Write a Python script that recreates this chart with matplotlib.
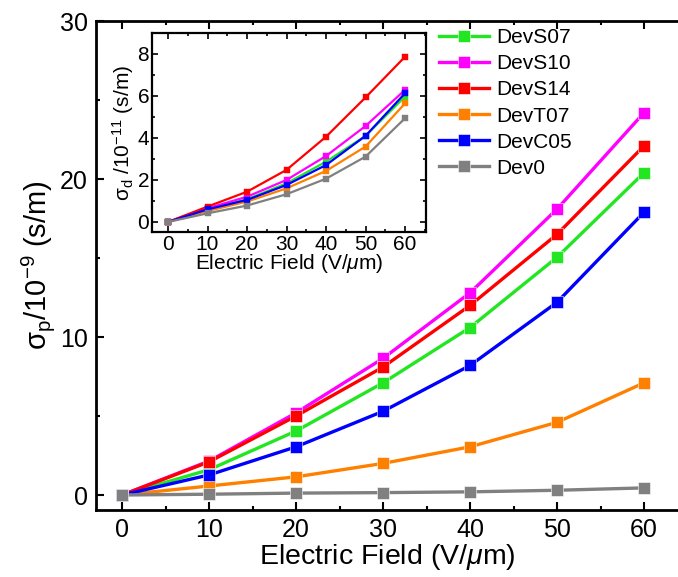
import numpy as np
import matplotlib
matplotlib.use("Agg")
import matplotlib.pyplot as plt
from matplotlib.ticker import MultipleLocator

plt.rcParams['font.family'] = ['Liberation Sans', 'DejaVu Sans']
plt.rcParams['mathtext.fontset'] = 'custom'
plt.rcParams['mathtext.rm'] = 'Liberation Sans'
plt.rcParams['mathtext.it'] = 'Liberation Sans:italic'
plt.rcParams['mathtext.default'] = 'regular'

field = [0, 10, 20, 30, 40, 50, 60]
names = ["DevS07", "DevS10", "DevS14", "DevT07", "DevC05", "Dev0"]
colors = ["#22e622", "#ff00ff", "#ff0000", "#ff8000", "#0000ff", "#808080"]

# main panel, sigma_p / 1e-9 (s/m)
sp_S07 = [0, 1.6, 4.05, 7.1, 10.6, 15.05, 20.4]
sp_S10 = [0, 2.15, 5.2, 8.65, 12.8, 18.1, 24.2]
sp_S14 = [0, 2.1, 5.0, 8.1, 12.0, 16.5, 22.1]
sp_T07 = [0, 0.57, 1.15, 2.0, 3.05, 4.6, 7.1]
sp_C05 = [0, 1.27, 3.05, 5.3, 8.2, 12.2, 17.9]
sp_D0 = [0, 0.05, 0.12, 0.15, 0.2, 0.3, 0.45]

# inset, sigma_d / 1e-11 (s/m)
sd_S07 = [0, 0.6, 1.08, 1.84, 2.87, 4.1, 5.97]
sd_S10 = [0, 0.65, 1.2, 2.0, 3.14, 4.57, 6.29]
sd_S14 = [0, 0.73, 1.44, 2.48, 4.06, 5.93, 7.87]
sd_T07 = [0, 0.52, 0.97, 1.6, 2.43, 3.59, 5.65]
sd_C05 = [0, 0.6, 1.05, 1.76, 2.71, 4.1, 6.13]
sd_D0 = [0, 0.41, 0.78, 1.32, 2.06, 3.11, 4.94]

main_data = [sp_S07, sp_S10, sp_S14, sp_T07, sp_C05, sp_D0]
inset_data = [sd_S07, sd_S10, sd_S14, sd_T07, sd_C05, sd_D0]

fig = plt.figure(figsize=(6.78, 5.77), dpi=100)
ax = fig.add_axes([0.1416, 0.1161, 0.8584, 0.8475])

for name, c, y in zip(names, colors, main_data):
    ax.plot(field, y, '-s', color=c, lw=2.4, ms=8.5, mec='white', mew=0.4, label=name)

ax.set_xlim(-3, 63.9)
ax.set_ylim(-0.95, 30)
ax.set_xticks(field)
ax.set_yticks([0, 10, 20, 30])
ax.xaxis.set_minor_locator(MultipleLocator(5))
ax.yaxis.set_minor_locator(MultipleLocator(5))
ax.tick_params(which='both', direction='in', top=True, right=False, width=1.5,
               labelsize=18, pad=6)
ax.tick_params(which='major', length=6)
ax.tick_params(which='minor', length=3)
for s in ['left', 'bottom', 'top']:
    ax.spines[s].set_linewidth(2)
ax.spines['right'].set_visible(False)

ax.set_xlabel(r"Electric Field (V/$\mathit{\mu}$m)", fontsize=20.5, labelpad=0)
ax.set_ylabel(r"$\sigma_p$/10$^{-9}$ (s/m)", fontsize=21, labelpad=2)

leg = ax.legend(loc='upper left', bbox_to_anchor=(0.648, 0.951), bbox_transform=fig.transFigure,
                frameon=False, fontsize=15, handlelength=2.4, handletextpad=0.35,
                labelspacing=0.34, borderpad=0, borderaxespad=0)

ins = fig.add_axes([0.2242, 0.5979, 0.4041, 0.3449])
for c, y in zip(colors, inset_data):
    ins.plot(field, y, '-s', color=c, lw=1.6, ms=4.5, mec=c, mew=0.3)

ins.set_xlim(-4.05, 65.3)
ins.set_ylim(-0.48, 9.0)
ins.set_xticks(field)
ins.set_yticks([0, 2, 4, 6, 8])
ins.xaxis.set_minor_locator(MultipleLocator(5))
ins.yaxis.set_minor_locator(MultipleLocator(1))
ins.tick_params(which='both', direction='in', top=True, right=True, width=1.2,
                labelsize=15, pad=2)
ins.tick_params(which='major', length=4)
ins.tick_params(which='minor', length=2)
for s in ins.spines.values():
    s.set_linewidth(1.6)
ins.set_xlabel(r"Electric Field (V/$\mathit{\mu}$m)", fontsize=15, labelpad=-1)
ins.set_ylabel(r"$\sigma_d$ /10$^{-11}$ (s/m)", fontsize=15, labelpad=1)

fig.savefig("out.png", dpi=100)
